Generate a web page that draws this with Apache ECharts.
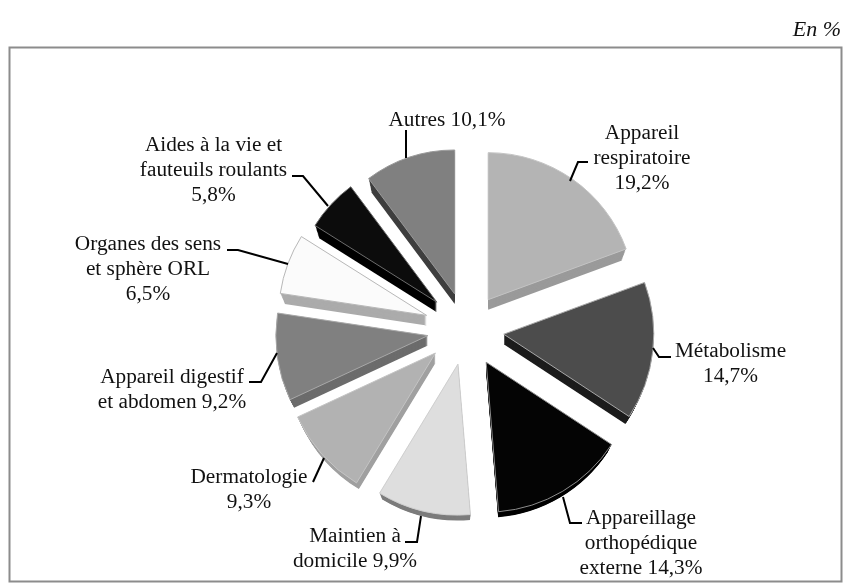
<!DOCTYPE html>
<html>
<head>
<meta charset="utf-8">
<style>html,body{margin:0;padding:0;background:#fff}#chart{width:843px;height:583px}</style>
<script src="https://cdn.jsdelivr.net/npm/echarts@6/dist/echarts.min.js"></script>
</head>
<body>
<div id="chart"></div>
<script>
const categories = ['Appareil\nrespiratoire','Métabolisme','Appareillage\northopédique\nexterne','Maintien à\ndomicile','Dermatologie','Appareil digestif\net abdomen','Organes des sens\net sphère ORL','Aides à la vie et\nfauteuils roulants','Autres'];
const values = [19.2,14.7,14.3,9.9,9.3,9.2,6.5,5.8,10.1];
const valueSeparators = ['\n','\n',' ',' ','\n',' ','\n','\n',' '];
const unitNote = 'En %';

const topColors  = ['#b4b4b4','#4c4c4c','#040404','#dedede','#b2b2b2','#808080','#fbfbfb','#0c0c0c','#808080'];
const sideColors = ['#9a9a9a','#1c1c1c','#000000','#7c7c7c','#a0a0a0','#6c6c6c','#ababab','#000000','#3e3e3e'];
const edgeColors = ['#c4c4c4','#a8a8a8','#8c8c8c','#cfcfcf','#c4c4c4','#a8a8a8','#b8b8b8','#6c6c6c','#9a9a9a'];
const sliceRadii   = [147,150,150,151,152,152,148,144,144];
const sliceExplode = [37,37,37.5,35,39,39.5,42,41,39];
const sliceNudge   = [[0,0],[0,0],[0,0],[-1,0],[-2.5,-3],[0,0],[-1,0],[0,0],[0,1]];
const labelCentres = [[642,158],[730.5,364],[641,543],[355,549],[249,490],[172,390],[148,269],[213.5,170.5],[447,120]];
const leaderPaths = [
  [[570,181],[578,162],[588,162]],
  [[653,348],[659,357],[671,357]],
  [[563,497],[570,523],[582,523]],
  [[421,516],[417,542],[405,542]],
  [[324,458],[313,482],[313,482]],
  [[277,353],[261,382],[249,382]],
  [[288,264],[238,250],[227,250]],
  [[328,206],[303,176],[292,176]],
  [[406,158],[406,130],[406,130]]
];
const depthSteps = [10,9,8,7,6,5,4,3,2,1];
const cx = 467, cy = 330;

const pct = v => v.toFixed(1).replace('.', ',') + '%';
const total = values.reduce((a,b) => a + b, 0);

// Direction in which each slice is pulled out, from its share of the pie.
let running = 0;
const pullDirs = values.map(v => {
  const mid = (running + v / 2) / total * 2 * Math.PI;
  running += v;
  return [Math.sin(mid), -Math.cos(mid)];
});

const hidden = 'rgba(0,0,0,0)';
function sliceSeries(i, dy, shrink, fill, border) {
  return {
    type: 'pie', silent: true, animation: false, clockwise: true, startAngle: 90,
    center: [
      cx + sliceExplode[i] * pullDirs[i][0] + sliceNudge[i][0],
      cy + sliceExplode[i] * pullDirs[i][1] + sliceNudge[i][1] + dy
    ],
    radius: [0, sliceRadii[i] - shrink],
    label: {show: false}, labelLine: {show: false},
    emphasis: {disabled: true},
    data: values.map((v, j) => ({
      name: categories[j], value: v,
      itemStyle: j === i
        ? {color: fill, borderColor: border || fill, borderWidth: border ? 1 : 0}
        : {color: hidden, borderWidth: 0}
    }))
  };
}

const sliceLayers = [];
values.forEach((_, i) => {
  depthSteps.forEach(d => sliceLayers.push(sliceSeries(i, d, 0.45 * d, sideColors[i])));
  sliceLayers.push(sliceSeries(i, 0, 0, topColors[i], edgeColors[i]));
});

// Invisible pie that only carries the labels and their leader lines.
const labelCarrier = {
  type: 'pie', silent: true, animation: false, clockwise: true, startAngle: 90,
  center: [cx, cy], radius: [0, 148], z: 5,
  emphasis: {disabled: true},
  itemStyle: {color: hidden, borderWidth: 0},
  label: {
    show: true, position: 'outside', color: '#111',
    fontFamily: '"Liberation Serif","Times New Roman",serif', fontSize: 21.3, lineHeight: 25,
    align: 'center',
    formatter: p => p.name + valueSeparators[p.dataIndex] + pct(p.value)
  },
  labelLine: {show: true, lineStyle: {color: '#000', width: 2}},
  labelLayout: p => ({
    x: labelCentres[p.dataIndex][0],
    y: labelCentres[p.dataIndex][1],
    align: 'center', verticalAlign: 'middle',
    labelLinePoints: leaderPaths[p.dataIndex]
  }),
  data: values.map((v,i) => ({name: categories[i], value: v}))
};

const chart = echarts.init(document.getElementById('chart'), null, {renderer: 'canvas'});
chart.setOption({
  backgroundColor: '#fff',
  animation: false,
  graphic: [
    {type: 'rect', z: -1, shape: {x: 9.5, y: 47.5, width: 832, height: 534}, style: {fill: '#fff', stroke: '#8c8c8c', lineWidth: 2}},
    {type: 'text', right: 2, top: 19, style: {text: unitNote, fill: '#111', font: 'italic 22px "Liberation Serif","Times New Roman",serif'}}
  ],
  series: [...sliceLayers, labelCarrier]
});
</script>
</body>
</html>
